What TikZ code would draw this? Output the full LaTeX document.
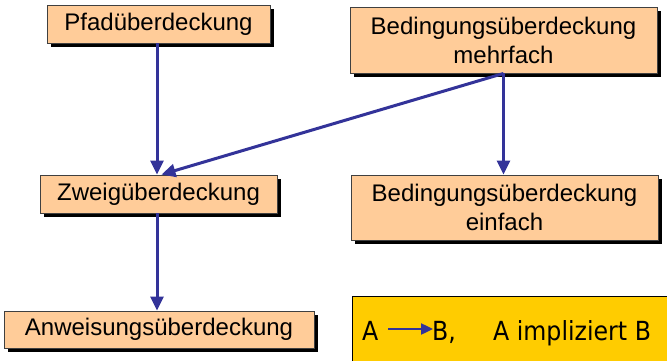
\documentclass[tikz,border=0pt]{standalone}
\usepackage{fontspec}
\setmainfont{Liberation Sans}
\newfontfamily\legfont{DejaVu Sans Condensed}
\usetikzlibrary{arrows.meta,shadows,calc}
\definecolor{peach}{HTML}{FFCC99}
\definecolor{gold}{HTML}{FFCC00}
\definecolor{navy}{HTML}{333399}
\tikzset{
  box/.style={draw=black!75, line width=0.9pt, fill=peach, inner sep=0pt,
    align=center, font=\fontsize{24}{29}\selectfont,
    drop shadow={shadow xshift=4pt, shadow yshift=-4pt, fill=black, opacity=1}},
  link/.style={draw=navy, line width=3pt, -{Triangle[length=14pt,width=13pt]}},
  legtext/.style={inner sep=0pt, anchor=base west, font=\legfont\fontsize{26.3}{30}\selectfont},
}
\begin{document}
\begin{tikzpicture}[x=1pt,y=-1pt]
\clip (0,0) rectangle (667,361);
\fill[white] (0,0) rectangle (667,361);
\node[box, minimum width=223pt, minimum height=38pt] (pfad) at (158.5,24) {Pfadüberdeckung};
\node[box, minimum width=307pt, minimum height=66pt] (mehr) at (503.5,40) {Bedingungsüberdeckung\\mehrfach};
\node[box, minimum width=237pt, minimum height=38pt] (zweig) at (158.5,194) {Zweigüberdeckung};
\node[box, minimum width=307pt, minimum height=65pt] (einf) at (504.5,207.5) {Bedingungsüberdeckung\\einfach};
\node[box, minimum width=310pt, minimum height=37pt] (anw) at (159,329.5) {Anweisungsüberdeckung};
\node[draw=black, line width=0.9pt, fill=gold, minimum width=330pt, minimum height=80pt, inner sep=0pt] (legend) at (517,336) {};
\draw[link] (pfad.south -| 157,0) -- (zweig.north -| 157,0);
\draw[link] (mehr.south) -- ($(zweig.north)+(3,0)$);
\draw[link] (mehr.south) -- (einf.north -| mehr.south);
\draw[link] (zweig.south -| 157,0) -- (anw.north -| 157,0);
\node[legtext] (la) at (362,340) {A};
\coordinate (ca) at (388,329);
\coordinate (cb) at (433,329);
\draw[draw=navy, line width=2.4pt, -{Triangle[length=12pt,width=11pt]}] (ca) -- (cb);
\node[legtext] (lb) at (432,340) {B,};
\node[legtext] (lc) at (493,340) {A impliziert B};
\end{tikzpicture}
\end{document}
